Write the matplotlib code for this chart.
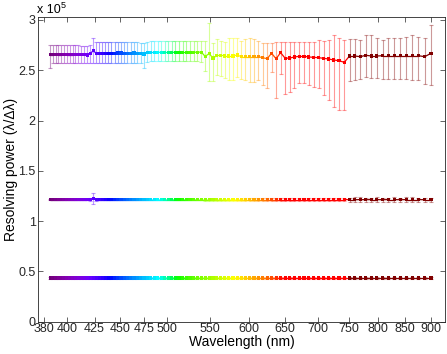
import matplotlib
matplotlib.use("Agg")
import matplotlib.pyplot as plt
from matplotlib.collections import LineCollection
from matplotlib.ticker import FixedLocator, FixedFormatter, NullLocator
import numpy as np

plt.rcParams["font.family"] = ["Liberation Sans", "DejaVu Sans"]

# sample wavelengths (nm), equally spaced in wavenumber
wavelength = [
    385.0, 387.4, 389.8, 392.2, 394.6, 397.1, 399.6, 402.1, 404.7, 407.3,
    410.0, 412.6, 415.3, 418.1, 420.9, 423.7, 426.6, 429.4, 432.4, 435.4,
    438.4, 441.4, 444.5, 447.7, 450.9, 454.1, 457.4, 460.7, 464.1, 467.5,
    471.0, 474.6, 478.1, 481.8, 485.5, 489.2, 493.1, 496.9, 500.9, 504.9,
    508.9, 513.1, 517.3, 521.5, 525.9, 530.3, 534.7, 539.3, 543.9, 548.7,
    553.5, 558.3, 563.3, 568.4, 573.5, 578.8, 584.1, 589.6, 595.1, 600.8,
    606.5, 612.4, 618.4, 624.5, 630.7, 637.1, 643.6, 650.2, 656.9, 663.8,
    670.9, 678.1, 685.4, 692.9, 700.6, 708.5, 716.5, 724.7, 733.1, 741.7,
    750.5, 759.5, 768.7, 778.2, 787.9, 797.8, 808.0, 818.5, 829.2, 840.2,
    851.5, 863.2, 875.1, 887.4, 900.0,
]

# resolving power, units of 1e5
top_val = [
    2.655, 2.655, 2.656, 2.655, 2.655, 2.656, 2.655, 2.655, 2.655, 2.656,
    2.655, 2.654, 2.653, 2.652, 2.665, 2.694, 2.670, 2.670, 2.671, 2.670,
    2.670, 2.670, 2.671, 2.672, 2.672, 2.671, 2.670, 2.670, 2.672, 2.671,
    2.668, 2.662, 2.676, 2.678, 2.678, 2.678, 2.679, 2.678, 2.678, 2.678,
    2.679, 2.679, 2.678, 2.678, 2.679, 2.679, 2.680, 2.681, 2.638, 2.665,
    2.622, 2.645, 2.650, 2.642, 2.642, 2.642, 2.652, 2.635, 2.635, 2.635,
    2.635, 2.635, 2.625, 2.615, 2.669, 2.615, 2.675, 2.619, 2.622, 2.632,
    2.639, 2.639, 2.632, 2.629, 2.625, 2.619, 2.612, 2.602, 2.595, 2.579,
    2.642, 2.642, 2.635, 2.649, 2.642, 2.642, 2.645, 2.645, 2.645, 2.645,
    2.645, 2.645, 2.645, 2.635, 2.669,
]
top_up = [
    0.092, 0.092, 0.092, 0.092, 0.092, 0.092, 0.092, 0.092, 0.092, 0.092,
    0.092, 0.092, 0.092, 0.092, 0.090, 0.126, 0.107, 0.107, 0.107, 0.107,
    0.107, 0.107, 0.107, 0.107, 0.107, 0.107, 0.107, 0.107, 0.107, 0.107,
    0.107, 0.110, 0.110, 0.110, 0.110, 0.110, 0.110, 0.110, 0.110, 0.110,
    0.110, 0.110, 0.110, 0.110, 0.110, 0.110, 0.110, 0.110, 0.150, 0.305,
    0.150, 0.170, 0.140, 0.140, 0.176, 0.180, 0.170, 0.160, 0.180, 0.190,
    0.180, 0.160, 0.150, 0.160, 0.105, 0.169, 0.109, 0.165, 0.162, 0.152,
    0.145, 0.145, 0.152, 0.155, 0.176, 0.170, 0.190, 0.249, 0.223, 0.222,
    0.166, 0.166, 0.166, 0.202, 0.209, 0.176, 0.156, 0.173, 0.173, 0.173,
    0.183, 0.206, 0.183, 0.183, 0.281,
]
top_dn = [
    0.133, 0.083, 0.083, 0.083, 0.083, 0.083, 0.083, 0.083, 0.083, 0.083,
    0.083, 0.083, 0.083, 0.083, 0.090, 0.124, 0.098, 0.098, 0.098, 0.098,
    0.098, 0.098, 0.098, 0.098, 0.098, 0.098, 0.098, 0.098, 0.098, 0.098,
    0.098, 0.140, 0.090, 0.090, 0.090, 0.090, 0.090, 0.090, 0.090, 0.090,
    0.090, 0.090, 0.090, 0.090, 0.090, 0.090, 0.090, 0.100, 0.150, 0.276,
    0.230, 0.190, 0.210, 0.220, 0.240, 0.240, 0.220, 0.220, 0.230, 0.250,
    0.250, 0.230, 0.270, 0.290, 0.183, 0.394, 0.212, 0.358, 0.335, 0.311,
    0.269, 0.262, 0.278, 0.292, 0.300, 0.365, 0.408, 0.464, 0.490, 0.474,
    0.246, 0.239, 0.225, 0.219, 0.219, 0.219, 0.235, 0.235, 0.235, 0.235,
    0.235, 0.242, 0.242, 0.272, 0.315,
]

mid_val = [
    1.215, 1.215, 1.215, 1.215, 1.215, 1.215, 1.215, 1.215, 1.215, 1.215,
    1.215, 1.215, 1.215, 1.215, 1.216, 1.222, 1.215, 1.215, 1.215, 1.215,
    1.215, 1.215, 1.215, 1.215, 1.215, 1.215, 1.215, 1.215, 1.215, 1.215,
    1.215, 1.215, 1.215, 1.215, 1.215, 1.215, 1.215, 1.215, 1.215, 1.215,
    1.215, 1.215, 1.215, 1.215, 1.215, 1.215, 1.215, 1.215, 1.215, 1.215,
    1.215, 1.215, 1.215, 1.215, 1.215, 1.215, 1.215, 1.215, 1.215, 1.215,
    1.215, 1.215, 1.215, 1.215, 1.215, 1.215, 1.215, 1.215, 1.215, 1.215,
    1.215, 1.215, 1.215, 1.215, 1.215, 1.215, 1.215, 1.215, 1.215, 1.215,
    1.213, 1.213, 1.214, 1.213, 1.214, 1.214, 1.213, 1.214, 1.214, 1.213,
    1.214, 1.214, 1.214, 1.213, 1.213,
]
mid_err = [
    0.008, 0.008, 0.008, 0.008, 0.008, 0.008, 0.008, 0.008, 0.008, 0.008,
    0.008, 0.008, 0.008, 0.008, 0.012, 0.055, 0.010, 0.008, 0.008, 0.008,
    0.008, 0.008, 0.008, 0.008, 0.008, 0.008, 0.008, 0.008, 0.008, 0.008,
    0.008, 0.008, 0.008, 0.008, 0.008, 0.008, 0.008, 0.008, 0.008, 0.008,
    0.008, 0.008, 0.008, 0.008, 0.008, 0.008, 0.008, 0.008, 0.010, 0.010,
    0.010, 0.010, 0.010, 0.010, 0.010, 0.010, 0.010, 0.010, 0.012, 0.012,
    0.012, 0.012, 0.012, 0.012, 0.014, 0.014, 0.014, 0.014, 0.014, 0.014,
    0.014, 0.014, 0.014, 0.014, 0.014, 0.014, 0.014, 0.014, 0.014, 0.014,
    0.022, 0.024, 0.022, 0.020, 0.020, 0.022, 0.020, 0.020, 0.022, 0.020,
    0.024, 0.022, 0.020, 0.022, 0.022,
]

low_val = [
    0.435, 0.435, 0.435, 0.435, 0.435, 0.435, 0.435, 0.435, 0.435, 0.435,
    0.435, 0.435, 0.435, 0.435, 0.435, 0.435, 0.435, 0.435, 0.435, 0.435,
    0.435, 0.435, 0.435, 0.435, 0.435, 0.435, 0.435, 0.435, 0.435, 0.435,
    0.435, 0.435, 0.435, 0.435, 0.435, 0.435, 0.435, 0.435, 0.435, 0.435,
    0.435, 0.435, 0.435, 0.435, 0.435, 0.435, 0.435, 0.435, 0.435, 0.435,
    0.435, 0.435, 0.435, 0.435, 0.435, 0.435, 0.435, 0.435, 0.435, 0.435,
    0.435, 0.435, 0.435, 0.435, 0.435, 0.435, 0.435, 0.435, 0.435, 0.435,
    0.435, 0.435, 0.435, 0.435, 0.435, 0.435, 0.435, 0.435, 0.435, 0.435,
    0.435, 0.435, 0.435, 0.435, 0.435, 0.435, 0.435, 0.435, 0.435, 0.435,
    0.435, 0.435, 0.435, 0.435, 0.435,
]
low_err = [
    0.006, 0.006, 0.006, 0.006, 0.006, 0.006, 0.006, 0.006, 0.006, 0.006,
    0.006, 0.006, 0.006, 0.006, 0.006, 0.006, 0.006, 0.006, 0.006, 0.006,
    0.006, 0.006, 0.006, 0.006, 0.006, 0.006, 0.006, 0.006, 0.006, 0.006,
    0.006, 0.006, 0.006, 0.006, 0.006, 0.006, 0.006, 0.006, 0.006, 0.006,
    0.006, 0.006, 0.006, 0.006, 0.006, 0.006, 0.006, 0.006, 0.006, 0.006,
    0.006, 0.006, 0.006, 0.006, 0.006, 0.006, 0.006, 0.006, 0.006, 0.006,
    0.006, 0.006, 0.006, 0.006, 0.006, 0.006, 0.006, 0.006, 0.006, 0.006,
    0.006, 0.006, 0.006, 0.006, 0.006, 0.006, 0.006, 0.006, 0.006, 0.006,
    0.008, 0.008, 0.008, 0.008, 0.008, 0.008, 0.008, 0.008, 0.008, 0.008,
    0.008, 0.008, 0.008, 0.008, 0.008,
]

xticks = [380, 400, 425, 450, 475, 500, 550, 600, 650, 700, 750, 800, 850, 900]
yticks = [0, 0.5, 1, 1.5, 2, 2.5, 3]
ytick_labels = ["0", "0.5", "1", "1.5", "2", "2.5", "3"]


def spectral_rgb(wl):
    """Visible-spectrum colour for a wavelength in nm."""
    if wl >= 745:
        return (0.5, 0.0, 0.0)
    if wl < 440:
        r, g, b = -(wl - 440) / 60.0, 0.0, 1.0
    elif wl < 490:
        r, g, b = 0.0, (wl - 440) / 50.0, 1.0
    elif wl < 510:
        r, g, b = 0.0, 1.0, -(wl - 510) / 20.0
    elif wl < 580:
        r, g, b = (wl - 510) / 70.0, 1.0, 0.0
    elif wl < 645:
        r, g, b = 1.0, -(wl - 645) / 65.0, 0.0
    else:
        r, g, b = 1.0, 0.0, 0.0
    f = 1.0
    if wl < 420:
        f = 0.3 + 0.7 * (wl - 380) / 40.0
    return tuple((c * f) ** 0.8 for c in (r, g, b))


colors = [spectral_rgb(w) for w in wavelength]

fig = plt.figure(figsize=(4.47, 3.54), dpi=100)
ax = fig.add_axes([0.0861, 0.0912, 0.9094, 0.8600])

x = np.array(wavelength)
series = [
    (np.array(top_val), np.array(top_dn), np.array(top_up)),
    (np.array(mid_val), np.array(mid_err), np.array(mid_err)),
    (np.array(low_val), np.array(low_err), np.array(low_err)),
]

for yv, dn, up in series:
    for xi, yi, d, u, c in zip(x, yv, dn, up, colors):
        ax.errorbar([xi], [yi], yerr=[[d], [u]], fmt="none",
                    ecolor=c, alpha=0.4, elinewidth=0.8, capsize=1.6,
                    capthick=0.8, zorder=1)
    pts = np.column_stack([x, yv])
    segs = np.stack([pts[:-1], pts[1:]], axis=1)
    ax.add_collection(LineCollection(segs, colors=colors[:-1],
                                     linewidths=0.9, zorder=2))
    ax.scatter(x, yv, c=colors, marker="s", s=5, linewidths=0, zorder=3)

ax.set_xscale("log")
ax.set_xlim(375.1, 928.5)
ax.set_ylim(0, 3.027)
ax.xaxis.set_major_locator(FixedLocator(xticks))
ax.xaxis.set_major_formatter(FixedFormatter([str(t) for t in xticks]))
ax.xaxis.set_minor_locator(NullLocator())
ax.set_yticks(yticks)
ax.set_yticklabels(ytick_labels)
ax.tick_params(direction="in", length=3.5, width=0.5, labelsize=9,
               top=True, right=True, pad=2, colors="#262626")
ax.tick_params(axis="x", pad=1)
for s in ax.spines.values():
    s.set_linewidth(0.6)
    s.set_color("#262626")

ax.set_xlabel("Wavelength (nm)", fontsize=10, labelpad=0)
ax.set_ylabel("Resolving power (λ/Δλ)", fontsize=10)
ax.yaxis.set_label_coords(-0.05, 0.5)

fig.text(0.083, 0.955, "x 10", fontsize=9, ha="left", va="bottom")
fig.text(0.135, 0.972, "5", fontsize=6.5, ha="left", va="bottom")

fig.savefig("out.png", dpi=100)
